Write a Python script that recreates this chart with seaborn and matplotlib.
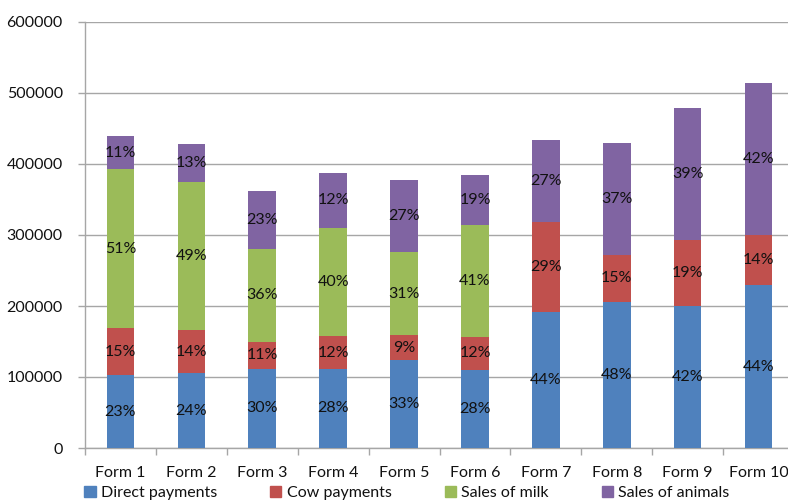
import matplotlib
matplotlib.use("Agg")
import matplotlib.pyplot as plt
import seaborn as sns
import numpy as np
import pandas as pd

forms = ["Form 1", "Form 2", "Form 3", "Form 4", "Form 5",
         "Form 6", "Form 7", "Form 8", "Form 9", "Form 10"]
series = ["Direct payments", "Cow payments", "Sales of milk", "Sales of animals"]
direct_payments = [102800, 105200, 111300, 111300, 123900, 110300, 192000, 206100, 200400, 229200]
cow_payments    = [65800, 61000, 38400, 46400, 34800, 45600, 126300, 65300, 93000, 70800]
sales_of_milk   = [224400, 208000, 130200, 152500, 117400, 157700, 0, 0, 0, 0]
sales_of_animals = [46000, 54400, 82100, 77000, 101400, 71400, 115500, 158600, 185100, 214500]

lab_direct  = ["23%", "24%", "30%", "28%", "33%", "28%", "44%", "48%", "42%", "44%"]
lab_cow     = ["15%", "14%", "11%", "12%", "9%", "12%", "29%", "15%", "19%", "14%"]
lab_milk    = ["51%", "49%", "36%", "40%", "31%", "41%", "", "", "", ""]
lab_animals = ["11%", "13%", "23%", "12%", "27%", "19%", "27%", "37%", "39%", "42%"]

colors = ["#4F81BD", "#C0504D", "#9BBB59", "#8064A2"]

sns.set_theme(style="white")
plt.rcParams["font.family"] = ["Lato", "DejaVu Sans"]
FS = 11.5
TXT = "#111111"
GRID = "#a6a6a6"

values = [direct_payments, cow_payments, sales_of_milk, sales_of_animals]
labels = [lab_direct, lab_cow, lab_milk, lab_animals]
cum = np.cumsum(np.array(values, dtype=float), axis=0)

fig = plt.figure(figsize=(7.88, 5.01), dpi=100)
W, H = 788, 501
ax = fig.add_axes([85 / W, 1 - 448 / H, (794 - 85) / W, (448 - 22) / H])

# draw from the tallest cumulative layer down so each segment shows
for k in range(3, -1, -1):
    df = pd.DataFrame({"form": forms, "value": cum[k]})
    sns.barplot(data=df, x="form", y="value", color=colors[k], width=0.39,
                saturation=1, ax=ax, zorder=3, linewidth=0)

for k in range(4):
    bottoms = cum[k] - np.array(values[k], dtype=float)
    for i in range(len(forms)):
        if labels[k][i]:
            ax.text(i, bottoms[i] + values[k][i] / 2, labels[k][i], ha="center",
                    va="center", fontsize=FS, color=TXT, zorder=5)

ax.set_xlim(-0.5, len(forms) - 0.5)
ax.set_ylim(0, 600000)
ax.set_yticks(np.arange(0, 600001, 100000))
ax.set_yticklabels([f"{int(v)}" for v in np.arange(0, 600001, 100000)])
ax.yaxis.grid(True, color=GRID, linewidth=1, zorder=0)
ax.set_axisbelow(True)
ax.set_xlabel("")
ax.set_ylabel("")

ax.set_xticks(np.arange(len(forms)))
ax.set_xticklabels(forms)
ax.set_xticks(np.arange(-0.5, len(forms), 1.0), minor=True)
ax.tick_params(axis="x", which="major", length=0, pad=13, labelsize=FS, labelcolor=TXT)
ax.tick_params(axis="x", which="minor", length=5, width=1, color=GRID, direction="out", bottom=True)
ax.tick_params(axis="y", which="major", length=5, width=1, color=GRID, pad=11,
               labelsize=FS, labelcolor=TXT, left=True)

for s in ["top", "right"]:
    ax.spines[s].set_visible(False)
for s in ["left", "bottom"]:
    ax.spines[s].set_color(GRID)
    ax.spines[s].set_linewidth(1)

handles = [plt.Rectangle((0, 0), 1, 1, color=c) for c in colors]
fig.legend(handles, series, loc="center", bbox_to_anchor=(407 / W, 8 / H),
           ncol=4, frameon=False, fontsize=FS, handlelength=0.7, handleheight=0.7,
           handletextpad=0.35, columnspacing=3.3, labelcolor=TXT, borderaxespad=0)

fig.savefig("out.png", dpi=100)
